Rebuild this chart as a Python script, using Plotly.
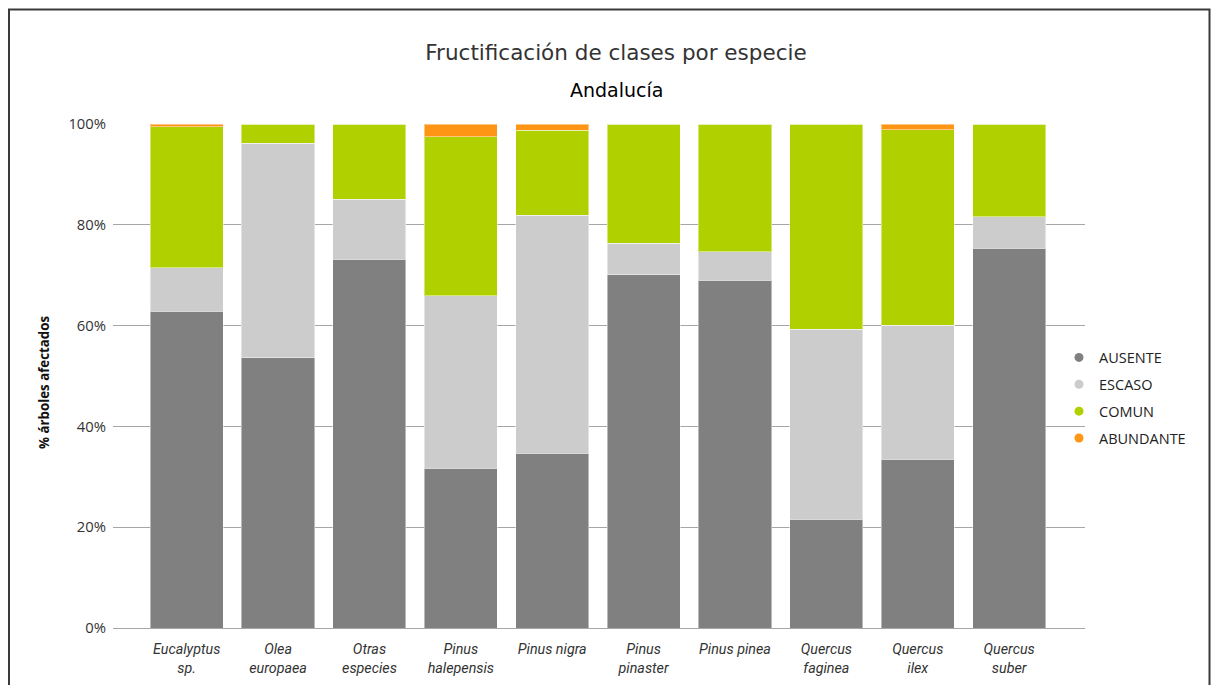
import plotly.graph_objects as go

# ---- data ----
especies = ["Eucalyptus sp.", "Olea europaea", "Otras especies", "Pinus halepensis",
            "Pinus nigra", "Pinus pinaster", "Pinus pinea", "Quercus faginea",
            "Quercus ilex", "Quercus suber"]
etiquetas = ["Eucalyptus<br>sp.", "Olea<br>europaea", "Otras<br>especies", "Pinus<br>halepensis",
             "Pinus nigra", "Pinus<br>pinaster", "Pinus pinea", "Quercus<br>faginea",
             "Quercus<br>ilex", "Quercus<br>suber"]
ausente = [62.8, 53.6, 73.2, 31.7, 34.7, 70.1, 69.0, 21.6, 33.5, 75.3]
escaso = [8.7, 42.6, 11.9, 34.2, 47.2, 6.2, 5.7, 37.7, 26.6, 6.3]
comun = [28.0, 3.8, 14.9, 31.6, 16.9, 23.7, 25.3, 40.7, 38.8, 18.4]
abundante = [0.5, 0.0, 0.0, 2.5, 1.2, 0.0, 0.0, 0.0, 1.1, 0.0]
y_ticks = [0, 20, 40, 60, 80, 100]
y_labels = ["0%", "20%", "40%", "60%", "80%", "100%"]

series = [("AUSENTE", ausente, "#808080"),
          ("ESCASO", escaso, "#cccccc"),
          ("COMUN", comun, "#b0d000"),
          ("ABUNDANTE", abundante, "#ff9514")]

fig = go.Figure()
x_idx = list(range(len(especies)))
for name, vals, col in series:
    fig.add_trace(go.Bar(
        x=x_idx, y=vals, name=name, showlegend=False,
        marker=dict(color=col, line=dict(color="rgba(255,255,255,0.45)", width=1)),
        hovertext=especies,
    ))
for name, vals, col in series:
    fig.add_trace(go.Scatter(
        x=[None], y=[None], mode="markers", name=name, legendgroup=name,
        marker=dict(symbol="circle", size=9, color=col),
    ))

OFF = 8.0          # page offset of the figure
W_DOM = 972.0
L = 113.0          # page x of plot left
B = 628.0          # page y of plot bottom
H_DOM = 504.0

def px_x(p):
    return (p - L) / W_DOM

def px_y(p):
    return (B - p) / H_DOM

FW, FH = 1203, 677

fig.update_layout(
    width=FW, height=FH,
    margin=dict(l=int(L - OFF), r=int(OFF + FW - 1085), t=int(124 - OFF), b=int(OFF + FH - B), autoexpand=False),
    barmode="stack", bargap=0.2,
    paper_bgcolor="white", plot_bgcolor="white",
    font=dict(family="Open Sans", color="#333333"),
    title=dict(text="Fructificación de clases por especie",
               font=dict(family="DejaVu Sans", size=21.5, color="#333333"),
               x=(616 - OFF) / FW, xanchor="center", xref="container",
               y=1 - (52 - OFF) / FH, yanchor="middle", yref="container"),
    xaxis=dict(
        type="linear", range=[-0.806, 9.83],
        tickmode="array", tickvals=x_idx, ticktext=etiquetas,
        showgrid=False, zeroline=False, showline=False,
        ticks="outside", ticklen=8, tickcolor="rgba(0,0,0,0)",
        tickfont=dict(family="Roboto", size=14.3, color="#333333", style="italic"),
    ),
    yaxis=dict(
        range=[0, 100], tickmode="array", tickvals=y_ticks, ticktext=y_labels,
        showgrid=True, gridcolor="#a6a6a6", gridwidth=1,
        zeroline=True, zerolinecolor="#a6a6a6", zerolinewidth=1,
        showline=False, ticks="", ticklabelstandoff=6,
        tickfont=dict(family="Open Sans", size=14.8, color="#333333"),
    ),
    legend=dict(
        x=px_x(1059), xanchor="left", y=px_y(398), yanchor="middle",
        traceorder="grouped", tracegroupgap=5, itemwidth=30,
        font=dict(family="Open Sans", size=14.5, color="#222222"),
        bgcolor="rgba(0,0,0,0)",
    ),
    annotations=[
        dict(text="Andalucía", x=px_x(616), y=px_y(90), xref="paper", yref="paper",
             xanchor="center", yanchor="middle", showarrow=False,
             font=dict(family="DejaVu Sans", size=19, color="#000000")),
        dict(text="<b>% árboles afectados</b>", x=px_x(44), y=px_y(383), xref="paper", yref="paper",
             xanchor="center", yanchor="middle", showarrow=False, textangle=-90,
             font=dict(family="Open Sans", size=13.3, color="#111111")),
    ],
    shapes=[
        dict(type="rect", xref="paper", yref="paper",
             x0=px_x(9), x1=px_x(1209.5), y0=px_y(730), y1=px_y(9.5),
             line=dict(color="#3a3a3a", width=2), fillcolor="rgba(0,0,0,0)", layer="above"),
    ],
)

fig.write_html("out.html")
